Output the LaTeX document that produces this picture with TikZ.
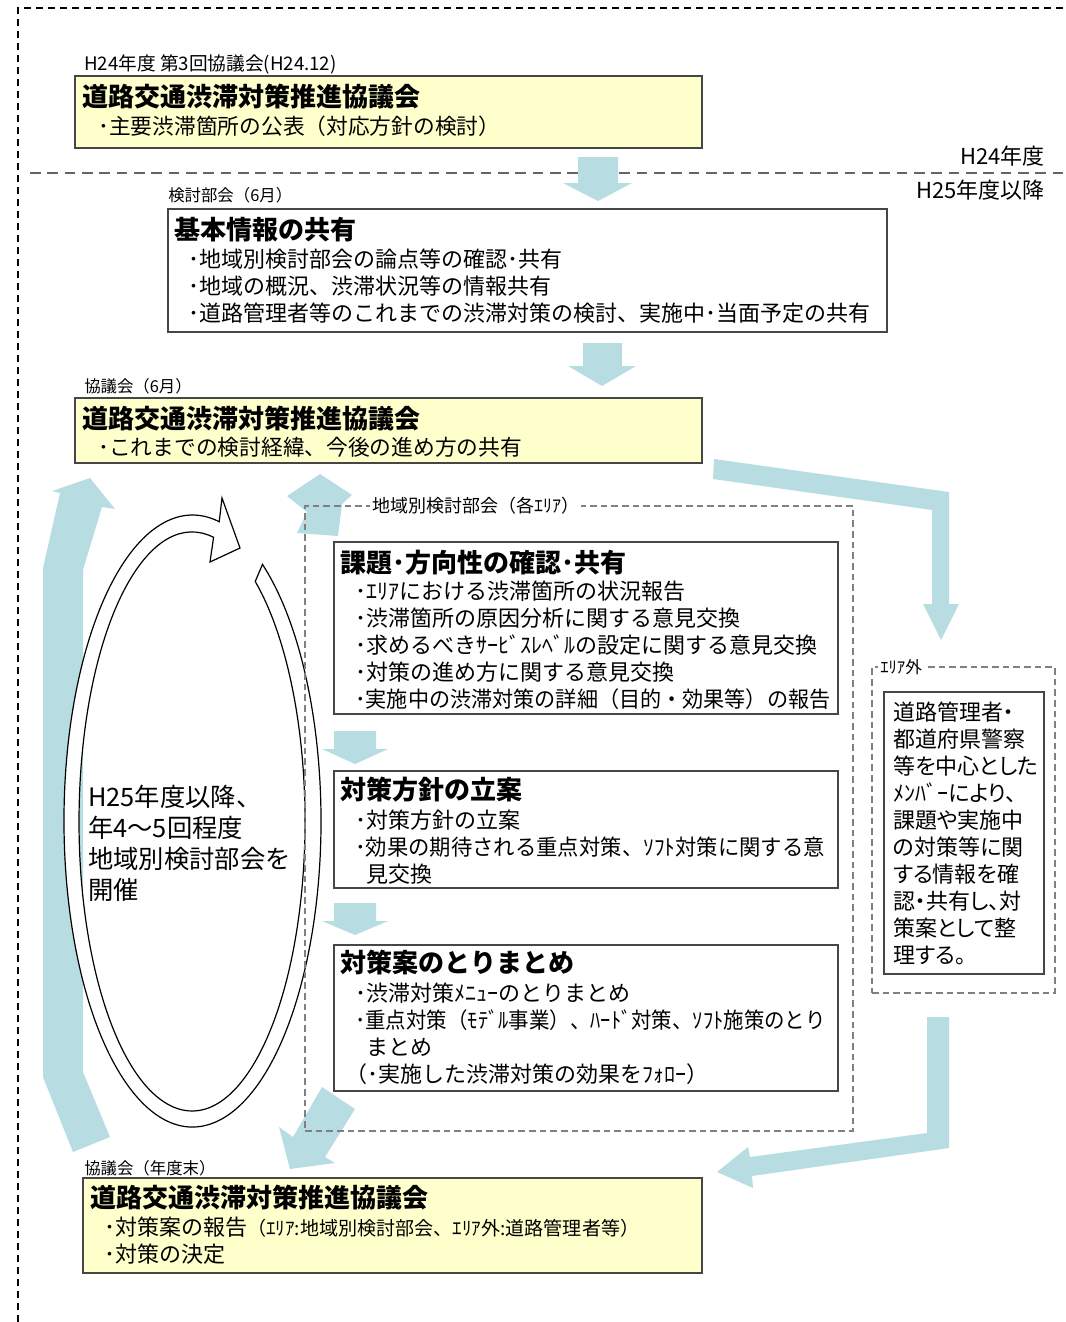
\documentclass[tikz,border=0pt]{standalone}
\usepackage{fontspec}
\setmainfont{Noto Sans CJK JP}
\newfontfamily\palfont[RawFeature=+palt]{Noto Sans CJK JP}
\usetikzlibrary{fit}
\definecolor{arrowblue}{RGB}{183,221,226}
\definecolor{boxyellow}{RGB}{255,255,204}
\definecolor{framegray}{RGB}{128,128,128}
\definecolor{boxline}{RGB}{70,70,70}
\definecolor{divgray}{RGB}{100,100,100}
\begin{document}
\begin{tikzpicture}[x=0.75pt,y=-0.75pt,
  ybox/.style={draw=boxline, line width=1.1pt, fill=boxyellow, inner sep=0pt},
  wbox/.style={draw=boxline, line width=1.1pt, fill=white, inner sep=0pt},
  dframe/.style={draw=framegray, line width=1.3pt, dash pattern=on 5pt off 3pt, inner sep=0pt},
  blockarrow/.style={fill=arrowblue, draw=none},
  ring/.style={draw=black, line width=0.9pt, fill=white},
  lbl/.style={font=\fontsize{12.3pt}{15pt}\selectfont, inner sep=0pt, anchor=west},
  flbl/.style={font=\fontsize{13.5pt}{16pt}\selectfont, inner ysep=0pt, inner xsep=1.5pt, anchor=west, fill=white},
  yr/.style={font=\fontsize{16.5pt}{19pt}\selectfont, inner sep=0pt, anchor=east},
  ttl/.style={font=\bfseries\fontsize{19.5pt}{23pt}\selectfont, inner sep=0pt, anchor=west},
  body/.style={font=\fontsize{16.5pt}{20.25pt}\selectfont, inner sep=0pt, anchor=north west, align=left},
]
\useasboundingbox (0,0) rectangle (1065,1322);

% frame lines
\draw[black, line width=1.1pt, dash pattern=on 5pt off 4pt] (18,1322) -- (18,8) -- (1065,8);
\draw[divgray, line width=1.5pt, dash pattern=on 8pt off 5pt] (30,173) -- (1065,173);

% block arrows
\fill[blockarrow] (578,157) -- (618,157) -- (618,183) -- (632,183) -- (598,201) -- (563,183) -- (578,183) -- cycle;
\fill[blockarrow] (583,343) -- (622,343) -- (622,366) -- (636,366) -- (602,386) -- (568,366) -- (583,366) -- cycle;
\fill[blockarrow] (334,731) -- (376,731) -- (376,749) -- (388,749) -- (355,764) -- (322,749) -- (334,749) -- cycle;
\fill[blockarrow] (334,903) -- (376,903) -- (376,921) -- (388,921) -- (355,935) -- (322,921) -- (334,921) -- cycle;
\fill[blockarrow] (714,459) -- (949,492) -- (949,604) -- (959,604) -- (941,640) -- (923,604) -- (932,604) -- (932,510) -- (713,479) -- cycle;
\fill[blockarrow] (927,1017) -- (949,1017) -- (949,1148) -- (752,1176) -- (753,1188) -- (717,1172) -- (748,1147) -- (750,1157) -- (927,1133) -- cycle;
\fill[blockarrow] (73,1152) -- (43,1077) -- (43,568) -- (60,493) -- (52,491) -- (90,478) -- (115,509) -- (102,507) -- (83,570) -- (83,1072) -- (110,1137) -- cycle;
\fill[blockarrow] (297,533) -- (307,512) -- (287,496) -- (320,474) -- (352,495) -- (342,504) -- (338,536) -- cycle;
\fill[blockarrow] (322,1087) -- (355,1109) -- (325,1157) -- (335,1163) -- (290,1169) -- (279,1127) -- (293,1137) -- cycle;

% circular arrow
\draw[ring] (192.5,821) ++(-57:128.5 and 306)
  arc[start angle=-57, end angle=282, x radius=128.5, y radius=306]
  -- (222,498) -- (240,548) -- (210,562) -- (213.6,537.3)
  arc[start angle=281, end angle=-56, x radius=113, y radius=289.5] -- cycle;
\node[font=\fontsize{19pt}{23.25pt}\selectfont, inner sep=0pt, anchor=north west, align=left] (cyc) at (88,785)
  {H25年度以降、\\年4～5回程度\\地域別検討部会を\\開催};

% box 1
\node[lbl, font=\fontsize{14pt}{16pt}\selectfont] (l1) at (84,64) {H24年度 第3回協議会(H24.12)};
\node[ybox, fit={(75,76)(702,148)}] (b1) {};
\node[ttl] (t1) at (82,97) {道路交通渋滞対策推進協議会};
\node[body, font=\fontsize{16.3pt}{20.25pt}\selectfont] (s1) at (98,116) {･主要渋滞箇所の公表（対応方針の検討）};

\node[yr] (y24) at (1045,156) {H24年度};
\node[yr] (y25) at (1045,190) {H25年度以降};

% box 2
\node[lbl] (l2) at (168,195) {検討部会（6月）};
\node[wbox, fit={(168,209)(887,332)}] (b2) {};
\node[ttl] (t2) at (174,230) {基本情報の共有};
\node[body] (s2) at (188,248.5) {･地域別検討部会の論点等の確認･共有\\･地域の概況、渋滞状況等の情報共有\\･道路管理者等のこれまでの渋滞対策の検討、実施中･当面予定の共有};

% box 3
\node[lbl] (l3) at (84,386) {協議会（6月）};
\node[ybox, fit={(75,398)(702,463)}] (b3) {};
\node[ttl] (t3) at (82,419) {道路交通渋滞対策推進協議会};
\node[body, font=\fontsize{16.3pt}{20.25pt}\selectfont] (s3) at (98,437) {･これまでの検討経緯、今後の進め方の共有};

% regional frame
\node[dframe, fit={(305,506)(853,1131)}] (f4) {};
\node[flbl] (l4) at (370,506) {地域別検討部会（各ｴﾘｱ）};

\node[wbox, fit={(334,542)(838,714)}] (b4a) {};
\node[ttl] (t4a) at (340,563) {課題･方向性の確認･共有};
\node[body] (s4a) at (355,580.5) {･ｴﾘｱにおける渋滞箇所の状況報告\\･渋滞箇所の原因分析に関する意見交換\\･求めるべきｻｰﾋﾞｽﾚﾍﾞﾙの設定に関する意見交換\\･対策の進め方に関する意見交換\\\scalebox{0.96}[1]{･実施中の渋滞対策の詳細（目的・効果等）の報告}};

\node[wbox, fit={(334,771)(838,888)}] (b4b) {};
\node[ttl] (t4b) at (340,790) {対策方針の立案};
\node[body] (s4b) at (355,809.5) {･対策方針の立案\\\scalebox{0.97}[1]{･効果の期待される重点対策、ｿﾌﾄ対策に関する意}\\\phantom{･}見交換};

\node[wbox, fit={(334,945)(838,1091)}] (b4c) {};
\node[ttl] (t4c) at (340,962) {対策案のとりまとめ};
\node[body] (s4c) at (355,982.5) {･渋滞対策ﾒﾆｭｰのとりまとめ\\\scalebox{0.93}[1]{･重点対策（ﾓﾃﾞﾙ事業）、ﾊｰﾄﾞ対策、ｿﾌﾄ施策のとり}\\\phantom{･}まとめ\\\hspace{-0.45em}（･実施した渋滞対策の効果をﾌｫﾛｰ）};

% outside-area frame
\node[dframe, fit={(872,667)(1055,993)}] (f5) {};
\node[flbl, font=\fontsize{12.5pt}{15pt}\selectfont] (l5) at (878,667) {ｴﾘｱ外};
\node[wbox, fit={(884,692)(1044,974)}] (b5) {};
\node[body, font=\palfont\fontsize{16.5pt}{20.25pt}\selectfont] (s5) at (893,701.5)
  {道路管理者・\\都道府県警察\\等を中心とした\\ﾒﾝﾊﾞｰにより、\\課題や実施中\\の対策等に関\\する情報を確\\認・共有し、対\\策案として整\\理する。};

% box 6
\node[lbl] (l6) at (84,1168) {協議会（年度末）};
\node[ybox, fit={(83,1178)(702,1273)}] (b6) {};
\node[ttl] (t6) at (90,1198) {道路交通渋滞対策推進協議会};
\node[body] (s6) at (104,1216.5) {･対策案の報告{\fontsize{14.3pt}{16pt}\selectfont （ｴﾘｱ:地域別検討部会、ｴﾘｱ外:道路管理者等）}\\･対策の決定};
\end{tikzpicture}
\end{document}
